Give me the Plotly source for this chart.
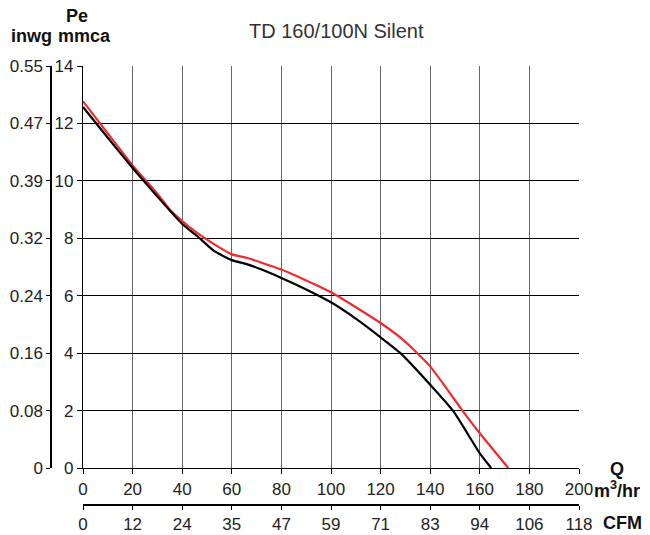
import plotly.graph_objects as go

# Data (Q in m3/hr, Pe in mmca)
red_q = [0, 10, 20, 30, 35, 40, 46, 53, 60, 66, 72, 80, 90, 100, 110, 120, 129, 140, 147, 153, 160, 171.5]
red_pe = [12.77, 11.65, 10.54, 9.55, 9.0, 8.6, 8.19, 7.79, 7.44, 7.32, 7.15, 6.91, 6.53, 6.12, 5.6, 5.05, 4.47, 3.54, 2.72, 2.0, 1.21, 0.0]

blk_q = [0, 10, 20, 30, 40, 46, 53, 60, 66, 72, 80, 90, 100, 110, 120, 128, 140, 149.4, 160, 164.6]
blk_pe = [12.57, 11.5, 10.45, 9.45, 8.5, 8.08, 7.55, 7.24, 7.1, 6.91, 6.62, 6.22, 5.77, 5.2, 4.55, 4.0, 2.9, 1.97, 0.51, 0.0]

q_ticks = [0, 20, 40, 60, 80, 100, 120, 140, 160, 180, 200]
cfm_labels = ["0", "12", "24", "35", "47", "59", "71", "83", "94", "106", "118"]
pe_ticks = [0, 2, 4, 6, 8, 10, 12, 14]
inwg_labels = ["0", "0.08", "0.16", "0.24", "0.32", "0.39", "0.47", "0.55"]

W, H = 650, 535
ml, mr, mt, mb = 40, 71, 66, 15
plot_l, plot_r, plot_b = 83, 579, 468
pw = W - ml - mr
ph = H - mt - mb
x_dom0 = (plot_l - ml) / pw
y_dom0 = ((H - mb) - plot_b) / ph
inwg_pos = (51 - ml) / pw
cfm_pos = ((H - mb) - 505) / ph

FONT = "Liberation Sans, Arial, sans-serif"
tickfont = dict(family=FONT, size=17, color="#222")

fig = go.Figure()
fig.add_trace(go.Scatter(x=red_q, y=red_pe, mode="lines",
                         line=dict(color="#ee2b2e", width=2.2, shape="spline", smoothing=0.5),
                         hoverinfo="skip", showlegend=False))
fig.add_trace(go.Scatter(x=blk_q, y=blk_pe, mode="lines",
                         line=dict(color="#000000", width=2.2, shape="spline", smoothing=0.5),
                         hoverinfo="skip", showlegend=False))
# helper traces so secondary axes render
fig.add_trace(go.Scatter(x=[None], y=[None], yaxis="y2", showlegend=False, hoverinfo="skip"))
fig.add_trace(go.Scatter(x=[None], y=[None], xaxis="x2", showlegend=False, hoverinfo="skip"))

fig.update_layout(
    width=W, height=H,
    margin=dict(l=ml, r=mr, t=mt, b=mb, autoexpand=False),
    paper_bgcolor="white", plot_bgcolor="white",
    font=dict(family=FONT, color="#222"),
    showlegend=False,
    xaxis=dict(domain=[x_dom0, 1], range=[0, 200], tickvals=q_ticks,
               ticks="outside", ticklen=5, tickcolor="#000", tickwidth=1,
               showgrid=True, gridcolor="#666", gridwidth=1.3,
               showline=True, linecolor="#000", linewidth=1.3, mirror=False,
               zeroline=False, tickfont=tickfont, anchor="y", automargin=False),
    yaxis=dict(domain=[y_dom0, 1], range=[0, 14], tickvals=pe_ticks,
               ticks="outside", ticklen=5, tickcolor="#000", tickwidth=1,
               showgrid=True, gridcolor="#000", gridwidth=1.3,
               showline=True, linecolor="#000", linewidth=1.3,
               zeroline=False, tickfont=tickfont, anchor="x", automargin=False),
    yaxis2=dict(overlaying="y", anchor="free", position=inwg_pos, side="left",
                range=[0, 14], tickvals=pe_ticks, ticktext=inwg_labels,
                ticks="outside", ticklen=4, tickcolor="#000",
                showgrid=False, zeroline=False,
                showline=True, linecolor="#000", linewidth=1.5,
                tickfont=tickfont, automargin=False),
    xaxis2=dict(overlaying="x", anchor="free", position=cfm_pos, side="bottom",
                range=[0, 200], tickvals=q_ticks, ticktext=cfm_labels,
                ticks="outside", ticklen=4, tickcolor="#000", tickwidth=1.2,
                showgrid=False, zeroline=False,
                showline=True, linecolor="#000", linewidth=1.8,
                tickfont=tickfont, automargin=False),
)

ann_font = dict(family=FONT, size=18, color="#111")

# convert pixel coords to paper (paper spans the plot region inside margins)
def lab_px(text, px, py, xanchor="center", font=ann_font):
    fig.add_annotation(text=text,
                       x=(px - ml) / pw, y=((H - mb) - py) / ph,
                       xref="paper", yref="paper",
                       xanchor=xanchor, yanchor="middle", showarrow=False, font=font)

lab_px("TD 160/100N Silent", 336, 31, font=dict(family=FONT, size=20, color="#333"))
lab_px("<b>Pe</b>", 77, 16)
lab_px("<b>inwg</b>", 31, 36)
lab_px("<b>mmca</b>", 84, 36)
lab_px("<b>Q</b>", 617, 469)
lab_px("<b>m<sup>3</sup>/hr</b>", 592, 489, xanchor="left")
lab_px("<b>CFM</b>", 601, 523, xanchor="left")

fig.write_html("out.html", config={"displayModeBar": False},
               post_script="document.body.style.margin='0px';document.body.style.overflow='hidden';")
